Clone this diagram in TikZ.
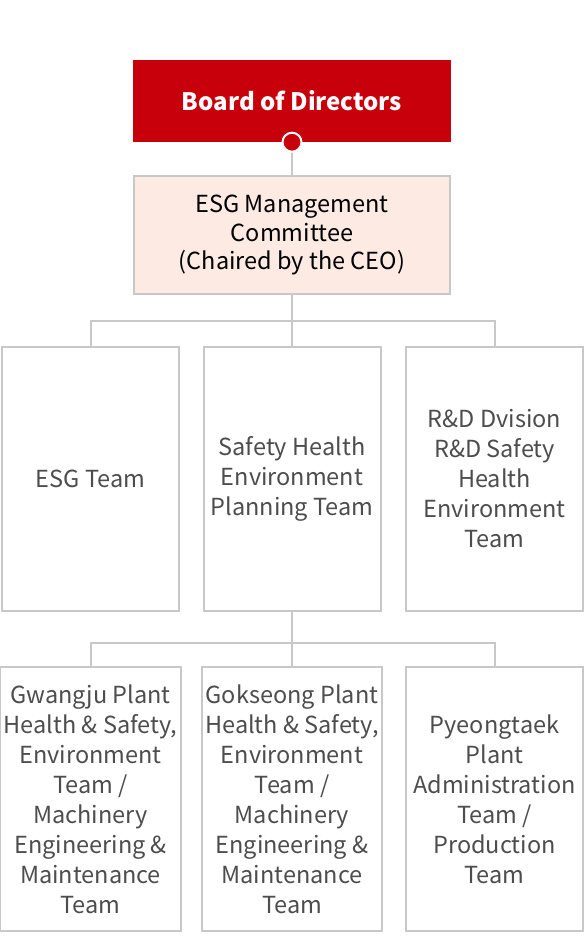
\documentclass[tikz,border=0pt]{standalone}
\usepackage{fontspec}
\setmainfont{Noto Sans CJK KR}
\definecolor{boardred}{HTML}{C8000B}
\definecolor{esgpink}{HTML}{FCEAE3}
\definecolor{linegray}{HTML}{C8C8C8}
\definecolor{textgray}{HTML}{4D4D4D}
\tikzset{
  teambox/.style={draw=linegray, line width=2pt, fill=white, minimum width=177pt,
    minimum height=264pt, align=center, text=textgray,
    font=\fontsize{23.5}{30}\selectfont},
  conn/.style={draw=linegray, line width=2pt}
}
\begin{document}
\begin{tikzpicture}[x=1pt,y=-1pt]
            \useasboundingbox (0,0) rectangle (586,940);
            \node[fill=boardred, minimum width=318pt, minimum height=82pt, text=white,
              font=\fontsize{24}{30}\selectfont\bfseries] (board) at (292,101) {Board of Directors};
            \node[draw=linegray, line width=2pt, fill=esgpink, minimum width=316pt, minimum height=118pt,
              align=center, text=black, font=\fontsize{23.5}{28.5}\selectfont] (esg) at (292,235)
              {ESG Management\\Committee\\(Chaired by the CEO)};
            \draw[conn] (board.south) -- (esg.north);
            \node[circle, fill=boardred, draw=white, line width=2pt, minimum size=19pt, inner sep=0pt] (dot) at (board.south) {};
            \node[teambox] (esgteam) at (90.5,479) {ESG Team};
            \node[teambox] (she) at (292,479) {Safety Health\\Environment\\Planning Team};
            \node[teambox] (rnd) at (494.5,479) {R\&D Dvision\\R\&D Safety\\Health\\Environment\\Team};
            \coordinate (split1) at (292,321);
            \draw[conn] (esg.south) -- (split1) -| (esgteam.north);
            \draw[conn] (split1) -| (rnd.north);
            \draw[conn] (split1) -- (she.north);
            \node[teambox] (gwangju) at (90.5,799) {Gwangju Plant\\Health \& Safety,\\Environment\\Team /\\Machinery\\Engineering \&\\Maintenance\\Team};
            \node[teambox] (gokseong) at (292,799) {Gokseong Plant\\Health \& Safety,\\Environment\\Team /\\Machinery\\Engineering \&\\Maintenance\\Team};
            \node[teambox] (pyeongtaek) at (494.5,799) {Pyeongtaek\\Plant\\Administration\\Team /\\Production\\Team};
            \coordinate (split2) at (292,643);
            \draw[conn] (she.south) -- (split2) -| (gwangju.north);
            \draw[conn] (split2) -| (pyeongtaek.north);
            \draw[conn] (split2) -- (gokseong.north);
        \end{tikzpicture}
\end{document}
